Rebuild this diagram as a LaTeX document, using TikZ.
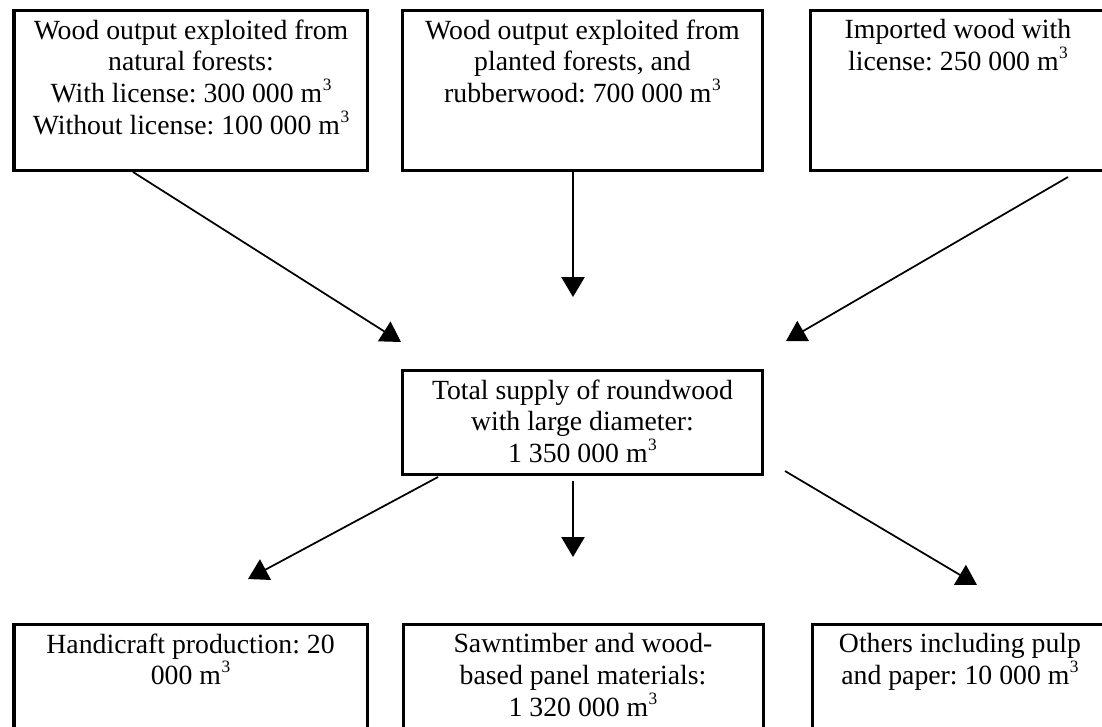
\documentclass[tikz,border=0pt]{standalone}
\usepackage{fontspec}
\setmainfont{Liberation Serif}
\usetikzlibrary{arrows.meta,positioning}
\newcommand\cubesup{\kern0.02em\raisebox{0.45em}{\fontsize{7.5}{7.5}\selectfont 3}}
\frenchspacing
\begin{document}
\begin{tikzpicture}[x=0.4325pt,y=-0.4325pt,
  box/.style={draw, line width=1.3pt, inner sep=0pt, outer sep=0pt, anchor=north west},
  txt/.style={align=center, inner sep=0pt, font=\fontsize{12}{13.8}\selectfont},
  arr/.style={line width=0.75pt, -{Triangle[length=8.6pt,width=10pt]}}]
\useasboundingbox (0,0) rectangle (1102,726);
\fill[white] (0,0) rectangle (1102,726);
\clip (0,0) rectangle (1102,726);

% top boxes
\node[box, minimum width=153.1pt, minimum height=69.6pt] (b1) at (14,10) {};
\node[box, minimum width=156.1pt, minimum height=69.6pt] (b2) at (402,10) {};
\node[box, minimum width=128.0pt, minimum height=69.6pt] (b3) at (810,10) {};
% centre box
\node[box, minimum width=156.1pt, minimum height=45.4pt] (c) at (402,370) {};
% bottom boxes
\node[box, minimum width=152.7pt, minimum height=63.1pt] (d1) at (14,624) {};
\node[box, minimum width=155.7pt, minimum height=63.1pt] (d2) at (403,624) {};
\node[box, minimum width=128.0pt, minimum height=63.1pt] (d3) at (812,624) {};

% texts
\node[txt, below=3.9pt of b1.north] (t1) {Wood output exploited from\\natural forests:\\With license: 300 000 m\cubesup\\Without license: 100 000 m\cubesup};
\node[txt, below=3.9pt of b2.north] (t2) {Wood output exploited from\\planted forests, and\\rubberwood: 700 000 m\cubesup};
\node[txt, below=3.9pt of b3.north] (t3) {Imported wood with\\license: 250 000 m\cubesup};
\node[txt, below=3.9pt of c.north] (tc) {Total supply of roundwood\\with large diameter:\\1 350 000 m\cubesup};
\node[txt, below=3.9pt of d1.north] (u1) {Handicraft production: 20\\000 m\cubesup};
\node[txt, below=3.9pt of d2.north] (u2) {Sawntimber and wood-\\based panel materials:\\1 320 000 m\cubesup};
\node[txt, below=3.9pt of d3.north] (u3) {Others including pulp\\and paper: 10 000 m\cubesup};

% connector end points
\coordinate (a1s) at (133,172);  \coordinate (a1e) at (401,342);
\coordinate (a2s) at (573,171);  \coordinate (a2e) at (573,297);
\coordinate (a3s) at (1068,177); \coordinate (a3e) at (786,341);
\coordinate (a4s) at (438,477);  \coordinate (a4e) at (248,579);
\coordinate (a5s) at (573,481);  \coordinate (a5e) at (573,557);
\coordinate (a6s) at (785,471);  \coordinate (a6e) at (977,585);

\draw[arr] (a1s) -- (a1e);
\draw[arr] (a2s) -- (a2e);
\draw[arr] (a3s) -- (a3e);
\draw[arr] (a4s) -- (a4e);
\draw[arr] (a5s) -- (a5e);
\draw[arr] (a6s) -- (a6e);
\end{tikzpicture}
\end{document}
